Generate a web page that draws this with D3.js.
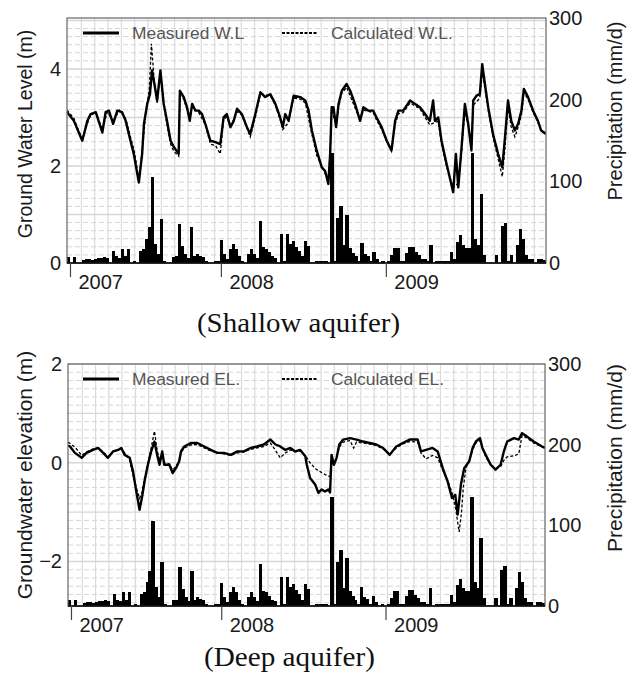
<!DOCTYPE html>
<html>
<head>
<meta charset="utf-8">
<script src="https://cdn.jsdelivr.net/npm/d3@7"></script>
<style>
body { margin: 0; background: #fff; }
text { font-family: "Liberation Sans", Arial, sans-serif; }
</style>
</head>
<body>
<script>
// x values are week numbers counted from the start of the record
var yearLabels = [ "2007", "2008", "2009" ];
var yearWeeks = [ 1, 51.4, 106.5 ];

// weekly precipitation (mm/d), same record on both panels
var rain = [
	7, 0, 7, 0, 0, 4, 5, 5, 4, 5, 6, 6, 7, 6, 0, 15, 8, 6, 17, 8,
	17, 0, 3, 0, 15, 17, 30, 44, 105, 23, 11, 54, 3, 0, 0, 7, 8, 48, 21, 11,
	6, 44, 8, 11, 9, 7, 3, 0, 0, 3, 2, 28, 11, 5, 17, 23, 17, 8, 3, 0,
	11, 17, 11, 6, 52, 19, 17, 13, 8, 6, 0, 36, 3, 36, 23, 27, 20, 15, 8, 27,
	21, 0, 0, 2, 2, 2, 3, 0, 135, 2, 55, 70, 22, 59, 18, 12, 8, 3, 24, 11,
	9, 3, 13, 5, 0, 2, 0, 3, 10, 18, 18, 2, 3, 12, 20, 20, 14, 10, 5, 5,
	2, 22, 0, 2, 3, 3, 2, 3, 14, 5, 26, 34, 22, 18, 18, 135, 30, 22, 84, 10,
	0, 0, 0, 10, 0, 45, 49, 2, 10, 0, 22, 42, 30, 10, 5, 5, 0, 5, 5, 4
];

// shallow aquifer water level (m), [week, level]
var shallowMeasured = [
	[0,3.11],[2.3,2.93],[5.1,2.52],[6.8,2.93],[7.9,3.07],[9.6,3.11],[11.8,2.69],[12.9,3.11],[14,3.14],[15.4,2.87],
	[16.8,3.14],[18.4,3.11],[19.6,2.93],[21.2,2.52],[22.3,2.25],[24,1.66],[25.1,2.25],[25.7,2.87],[26.8,3.28],[27.7,3.48],
	[28.4,3.97],[29.2,3.69],[30.1,3.35],[31.2,3.97],[32.3,3.28],[33.4,2.93],[34.6,2.52],[35.7,2.39],[37.3,2.25],[37.7,3.55],
	[39,3.42],[40.1,3.21],[41,2.93],[41.8,3.28],[42.9,3.14],[44,3.14],[45.1,3.07],[46.2,2.87],[47.9,2.52],[49.6,2.49],
	[51.2,2.45],[52.3,3.0],[53.4,3.07],[54.6,2.8],[55.7,2.93],[56.8,3.18],[58.4,3.07],[60.1,2.8],[61.2,2.66],[62.9,3.07],
	[64.6,3.52],[66.2,3.42],[67.9,3.48],[69.6,3.28],[71.2,3.0],[72.1,2.8],[72.9,3.07],[74,2.93],[75.7,3.45],[77.9,3.42],
	[79.6,3.35],[80.7,3.14],[81.8,2.73],[83.4,2.32],[85.1,1.97],[86.2,1.9],[87.3,1.63],[87.9,2.25],[88.4,3.21],[89,3.21],
	[89.9,2.8],[90.7,3.28],[91.8,3.55],[93.4,3.69],[94.6,3.55],[96.2,3.28],[97.9,2.93],[99,3.21],[100.7,3.14],[102.3,3.14],
	[103.4,3.0],[105.1,2.8],[106.8,2.52],[108.4,2.32],[109.6,2.93],[110.7,3.14],[112.3,3.14],[114.6,3.35],[116.2,3.28],[117.9,3.21],
	[119.6,3.07],[121.2,2.93],[122.3,3.35],[122.9,2.93],[124,3.0],[125.1,2.52],[126.8,2.04],[129,1.46],[129.9,2.25],[130.7,1.56],
	[131.8,2.39],[132.9,3.28],[134,2.87],[135.1,2.32],[135.7,3.35],[136.8,3.45],[137.9,3.48],[138.7,4.1],[139.6,3.69],[140.7,3.21],
	[142.3,2.66],[144,2.25],[145.4,1.97],[146.2,2.52],[147.3,3.35],[148.4,2.93],[149.6,2.73],[150.7,2.87],[151.8,3.14],[152.6,3.59],
	[154,3.42],[155.7,3.14],[157.3,2.93],[158.4,2.73],[160,2.66]
];
var shallowCalculated = [
	[0,3.15],[2.3,2.98],[5.1,2.55],[7.5,3.0],[9.6,3.12],[11.8,2.75],[13.5,3.12],[15.4,2.92],[17.5,3.15],[19.6,2.98],
	[21.2,2.6],[22.5,2.3],[24,1.72],[25.1,2.3],[26.2,3.0],[27.5,3.6],[28.2,4.52],[29.2,3.7],[30.1,3.3],[31.2,3.9],
	[32.3,3.25],[33.4,2.85],[34.6,2.45],[35.7,2.3],[37.3,2.2],[37.7,3.45],[39,3.38],[40.1,3.15],[41,2.95],[41.8,3.22],
	[44,3.1],[46.2,2.85],[47.9,2.45],[49.6,2.42],[51.2,2.25],[52.3,2.95],[53.4,3.02],[54.6,2.8],[56.8,3.12],[58.4,3.05],
	[60.1,2.78],[61.2,2.6],[62.9,3.0],[64.6,3.48],[67.9,3.45],[69.6,3.25],[71.2,2.95],[72.1,2.75],[74,2.9],[75.7,3.4],
	[77.9,3.38],[79.6,3.3],[81.8,2.65],[83.4,2.22],[85.1,2.0],[86.2,1.85],[87.3,1.7],[87.9,2.3],[88.4,3.15],[89.9,2.85],
	[90.7,3.2],[91.8,3.5],[93.4,3.62],[96.2,3.2],[97.9,2.95],[99,3.15],[102.3,3.1],[103.4,2.95],[105.1,2.75],[106.8,2.5],
	[108.4,2.3],[109.6,2.85],[110.7,3.08],[112.3,3.1],[114.6,3.3],[117.9,3.18],[119.6,3.0],[121.2,2.85],[122.9,2.9],[124,2.92],
	[125.1,2.45],[126.8,1.98],[129,1.55],[130.7,1.65],[131.8,2.3],[132.9,3.15],[134,2.85],[135.1,2.45],[135.7,3.25],[137.9,3.4],
	[138.7,3.95],[139.6,3.6],[140.7,3.15],[142.3,2.6],[144,2.15],[145.4,1.78],[146.2,2.3],[147.3,3.2],[148.4,2.8],[149.6,2.6],
	[150.7,2.8],[151.8,3.05],[152.6,3.5],[154,3.38],[155.7,3.1],[157.3,2.9],[158.4,2.72],[160,2.68]
];

// deep aquifer groundwater elevation (m), [week, elevation]
var deepMeasured = [
	[0,0.35],[0.7,0.33],[2.3,0.2],[4.6,0.1],[6.2,0.2],[8.4,0.26],[10.1,0.3],[11.8,0.2],[13.4,0.1],[15.1,0.23],
	[16.8,0.26],[17.9,0.3],[19,0.16],[20.7,0.1],[21.8,-0.17],[22.9,-0.58],[24,-0.95],[24.8,-0.71],[25.7,-0.37],[26.8,-0.04],
	[27.9,0.23],[29,0.43],[29.9,0.16],[30.7,-0.04],[31.6,0.23],[32.3,-0.04],[34,-0.04],[35.1,-0.21],[36.2,-0.11],[37.3,0.03],
	[37.9,0.23],[39,0.33],[41.2,0.4],[43.4,0.4],[45.7,0.33],[47.9,0.26],[50.1,0.2],[52.3,0.2],[54.6,0.16],[56.8,0.23],
	[59,0.23],[61.2,0.3],[63.4,0.33],[65.7,0.37],[67.9,0.47],[69.6,0.37],[71.2,0.33],[72.9,0.26],[74.6,0.3],[76.2,0.23],
	[77.9,0.26],[79.6,0.13],[80.1,-0.04],[81.2,-0.31],[82.9,-0.44],[84,-0.61],[85.1,-0.54],[86.2,-0.58],[87.3,-0.54],[87.9,-0.6],
	[88.4,0.16],[89.2,-0.04],[90.1,0.1],[91,0.37],[92.3,0.47],[94.6,0.5],[96.8,0.47],[99,0.43],[101.2,0.4],[103.4,0.37],
	[105.7,0.3],[107.9,0.16],[110.1,0.33],[112.3,0.4],[114.6,0.47],[117.3,0.47],[118.4,0.23],[120.1,0.26],[122.3,0.3],[124,0.23],
	[125.7,-0.11],[127.3,-0.37],[128.8,-0.71],[129.9,-0.65],[130.7,-1.05],[131.8,-0.44],[132.9,-0.11],[134.6,0.03],[135.7,0.3],[136.8,0.43],
	[138.2,0.5],[139,0.3],[140.1,0.16],[141.8,-0.04],[143.4,-0.14],[145.1,-0.04],[146.2,0.23],[147.3,0.43],[149.6,0.5],[151.2,0.47],
	[152.3,0.6],[154,0.53],[156.2,0.43],[159,0.33],[160,0.3]
];
var deepCalculated = [
	[0,0.42],[2.3,0.32],[4.6,0.15],[6.2,0.22],[8.4,0.28],[10.1,0.3],[11.8,0.22],[13.4,0.12],[15.1,0.22],[17.9,0.28],
	[19,0.2],[20.7,0.05],[21.8,-0.25],[22.9,-0.5],[24,-0.72],[24.8,-0.6],[25.7,-0.3],[26.8,0.0],[27.9,0.3],[29,0.64],
	[29.9,0.25],[30.7,0.05],[31.6,0.2],[32.3,0.0],[34,-0.02],[35.1,-0.15],[36.2,-0.08],[37.3,0.05],[37.9,0.2],[39,0.3],
	[41.2,0.36],[43.4,0.37],[45.7,0.3],[47.9,0.24],[50.1,0.2],[52.3,0.18],[54.6,0.15],[56.8,0.2],[59,0.22],[61.2,0.27],
	[63.4,0.3],[65.7,0.33],[67.9,0.4],[69.6,0.25],[71.2,0.1],[72.9,0.2],[74.6,0.26],[76.2,0.22],[77.9,0.24],[79.6,0.15],
	[81.2,0.0],[83,-0.12],[85.1,-0.2],[87.3,-0.27],[87.9,-0.28],[88.4,0.1],[89.2,-0.02],[90.1,0.1],[91,0.32],[92.3,0.42],
	[94.6,0.45],[95.8,0.3],[96.8,0.42],[99,0.4],[101.2,0.38],[103.4,0.35],[105.7,0.28],[107.9,0.18],[110.1,0.3],[112.3,0.38],
	[114.6,0.43],[117.3,0.42],[118.4,0.2],[120.1,0.08],[122.3,0.15],[124,0.1],[125.7,-0.15],[127.3,-0.35],[128.8,-0.6],[130.1,-0.95],
	[131.2,-1.4],[132,-1.0],[132.6,-0.5],[133.5,-0.1],[134.6,0.05],[135.7,0.25],[136.8,0.4],[138.2,0.45],[139,0.3],[140.1,0.12],
	[141.8,-0.05],[143.4,-0.12],[145.1,-0.08],[146.2,0.05],[147.3,0.12],[149.6,0.14],[151.2,0.18],[152.3,0.55],[154,0.5],[156.2,0.4],
	[159,0.32],[160,0.3]
];

var rainTicks = [ 0, 100, 200, 300 ];

var svg = d3.select("body")
	.append("svg")
	.attr("width", 637)
	.attr("height", 674)
;

function panel(p) {
	var g = svg.append("g");

	var x = d3.scaleLinear().domain([0, 160]).range([p.left, p.right]);
	var y = d3.scaleLinear().domain(p.levelDomain).range([p.bottom, p.top]);
	var yr = d3.scaleLinear().domain([0, 300]).range([p.bottom, p.top]);

	// background grid: monthly verticals, solid major / dashed minor horizontals
	var months = d3.range(4.8, 160, 4.45);
	g.selectAll(".vgrid").data(months).enter().append("line")
		.attr("x1", (d) => x(d)).attr("x2", (d) => x(d))
		.attr("y1", p.top).attr("y2", p.bottom)
		.attr("stroke", "#dcdcdc").attr("stroke-width", 1.2)
	;
	var lo = Math.ceil(p.levelDomain[0]), hi = Math.floor(p.levelDomain[1]);
	var minor = d3.range(p.levelDomain[0], p.levelDomain[1], 1 / 6)
		.map((d) => Math.round(d * 6) / 6)
		.filter((d) => Math.abs(d - Math.round(d)) > 0.01 && d > p.levelDomain[0]);
	g.selectAll(".minor").data(minor).enter().append("line")
		.attr("x1", p.left).attr("x2", p.right)
		.attr("y1", (d) => y(d)).attr("y2", (d) => y(d))
		.attr("stroke", "#d6d6d6").attr("stroke-dasharray", "5,3")
	;
	g.selectAll(".major").data(d3.range(lo, hi + 1)).enter().append("line")
		.attr("x1", p.left).attr("x2", p.right)
		.attr("y1", (d) => y(d)).attr("y2", (d) => y(d))
		.attr("stroke", "#d6d6d6").attr("stroke-width", 1.4)
	;

	// precipitation bars
	var bw = x(1) - x(0);
	g.selectAll(".bar").data(rain).enter().append("rect")
		.attr("x", (d, i) => x(i))
		.attr("y", (d) => yr(d))
		.attr("width", bw + 0.3)
		.attr("height", (d) => p.bottom - yr(d))
		.attr("fill", "#000")
		.attr("shape-rendering", "crispEdges")
	;

	var clipId = "clip" + p.id;
	svg.append("clipPath").attr("id", clipId)
		.append("rect").attr("x", p.left).attr("y", p.top)
		.attr("width", p.right - p.left).attr("height", p.bottom - p.top);

	var line = d3.line().x((d) => x(d[0])).y((d) => y(d[1]));
	g.append("path").datum(p.calculated)
		.attr("clip-path", "url(#" + clipId + ")")
		.attr("d", line).attr("fill", "none")
		.attr("stroke", "#000").attr("stroke-width", 1.3).attr("stroke-dasharray", "3,2")
	;
	g.append("path").datum(p.measured)
		.attr("clip-path", "url(#" + clipId + ")")
		.attr("d", line).attr("fill", "none")
		.attr("stroke", "#000").attr("stroke-width", 2.4).attr("stroke-linejoin", "round")
	;

	// frame
	g.append("rect")
		.attr("x", p.left).attr("y", p.top)
		.attr("width", p.right - p.left).attr("height", p.bottom - p.top)
		.attr("fill", "none").attr("stroke", "#666").attr("stroke-width", 1.2)
	;
	g.append("line")
		.attr("x1", p.left).attr("x2", p.right)
		.attr("y1", p.bottom).attr("y2", p.bottom)
		.attr("stroke", "#000").attr("stroke-width", 1.6)
	;

	// axes
	var la = g.append("g")
		.attr("transform", "translate(" + p.left + ",0)")
		.call(d3.axisLeft(y).tickValues(p.levelTicks).tickSize(0).tickPadding(6)
			.tickFormat((d) => d < 0 ? "\u2212" + Math.abs(d) : d));
	var ra = g.append("g")
		.attr("transform", "translate(" + p.right + ",0)")
		.call(d3.axisRight(yr).tickValues(rainTicks).tickSize(0).tickPadding(3));
	var xa = g.append("g")
		.attr("transform", "translate(0," + p.bottom + ")")
		.call(d3.axisBottom(x).tickValues(yearWeeks).tickSize(14)
			.tickFormat((d, i) => yearLabels[i]));

	[la, ra, xa].forEach(function(a) {
		a.select(".domain").remove();
		a.selectAll("text").attr("font-size", 20).attr("fill", "#1a1a1a")
			.attr("font-family", "'Liberation Sans', Arial, sans-serif");
	});
	xa.selectAll("line").attr("stroke", "#444").attr("stroke-width", 1.2);
	xa.selectAll("text").attr("text-anchor", "start").attr("x", 8).attr("y", 12);

	// axis titles
	g.append("text")
		.attr("transform", "translate(32," + p.leftTitleY + ") rotate(-90)")
		.attr("text-anchor", "middle").attr("font-size", p.leftTitleSize)
		.attr("fill", "#1a1a1a").text(p.leftTitle);
	g.append("text")
		.attr("transform", "translate(622," + p.rightTitleY + ") rotate(-90)")
		.attr("text-anchor", "middle").attr("font-size", p.rightTitleSize)
		.attr("fill", "#1a1a1a").text("Precipitation (mm/d)");

	// legend
	var ly = p.top + 15;
	g.append("line").attr("x1", 83).attr("x2", 119).attr("y1", ly).attr("y2", ly)
		.attr("stroke", "#000").attr("stroke-width", 3);
	g.append("text").attr("x", 132).attr("y", ly).attr("dy", "0.35em")
		.attr("font-size", 17.4).attr("fill", "#555").text(p.legend[0]);
	g.append("line").attr("x1", 282).attr("x2", 318).attr("y1", ly).attr("y2", ly)
		.attr("stroke", "#000").attr("stroke-width", 2).attr("stroke-dasharray", "3,1.5");
	g.append("text").attr("x", 331).attr("y", ly).attr("dy", "0.35em")
		.attr("font-size", 17.4).attr("fill", "#555").text(p.legend[1]);

	// caption
	g.append("text")
		.attr("x", p.captionX).attr("y", p.captionY)
		.style("font-family", "'Liberation Serif', 'Times New Roman', serif")
		.attr("font-size", 27)
		.attr("textLength", p.captionW).attr("lengthAdjust", "spacingAndGlyphs")
		.attr("fill", "#111").text(p.caption);
}

panel({
	id: 1, left: 67, right: 546, top: 18, bottom: 263,
	levelDomain: [0, 5.05], levelTicks: [0, 2, 4],
	measured: shallowMeasured, calculated: shallowCalculated,
	legend: [ "Measured W.L", "Calculated W.L." ],
	leftTitle: "Ground Water Level (m)", leftTitleY: 134, leftTitleSize: 19.5,
	rightTitleY: 111, rightTitleSize: 20,
	caption: "(Shallow aquifer)", captionX: 197, captionY: 332, captionW: 203
});

panel({
	id: 2, left: 68, right: 545, top: 364, bottom: 606,
	levelDomain: [-2.9, 2], levelTicks: [-2, 0, 2],
	measured: deepMeasured, calculated: deepCalculated,
	legend: [ "Measured EL.", "Calculated EL." ],
	leftTitle: "Groundwater elevation (m)", leftTitleY: 475, leftTitleSize: 21,
	rightTitleY: 458, rightTitleSize: 21,
	caption: "(Deep aquifer)", captionX: 204, captionY: 666, captionW: 171
});
</script>
</body>
</html>
